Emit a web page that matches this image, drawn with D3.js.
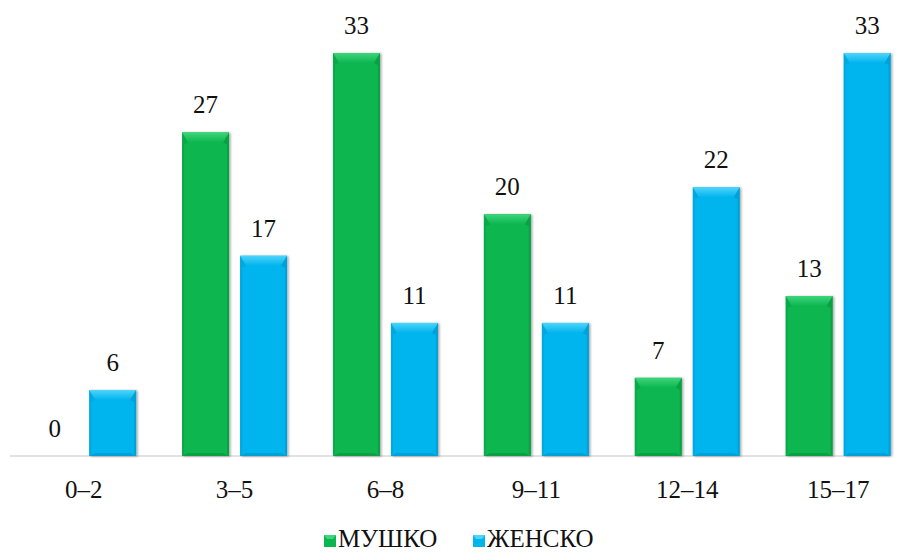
<!DOCTYPE html>
<html><head><meta charset="utf-8">
<script src="https://cdn.jsdelivr.net/npm/d3@7"></script>
<style>body{margin:0;background:#fff}svg{display:block}</style>
</head><body>
<svg id="c" width="897" height="554"></svg>
<script>
const categories = ["0–2","3–5","6–8","9–11","12–14","15–17"];
const seriesNames = ["МУШКО","ЖЕНСКО"];
const maleValues = [0, 26.5, 33, 19.8, 6.4, 13.1];
const femaleValues = [5.4, 16.4, 10.9, 10.9, 22, 33];
const maleLabels = ["0","27","33","20","7","13"];
const femaleLabels = ["6","17","11","11","22","33"];
const colors = ["#0cb64f","#00b4ee"];
const lightColors = ["#3ed57c","#4ed4fb"];
const darkColors = ["#07923d","#0193c6"];
const FONT = "'Liberation Serif','Times New Roman',Times,serif";

const svg = d3.select("#c");
const baseY = 456;
const x0 = d3.scaleBand().domain(categories).range([8.2, 8.2 + 150.9*6]).padding(0);
const bw = x0.bandwidth();
const x1 = d3.scaleBand().domain(seriesNames).range([(bw-105)/2, (bw+105)/2]).paddingInner(11/58);
const y = d3.scaleLinear().domain([0, 33]).range([baseY, 53]);

const defs = svg.append("defs");
const f = defs.append("filter").attr("id","sh").attr("x","-20%").attr("y","-5%").attr("width","140%").attr("height","110%");
f.append("feDropShadow").attr("dx",1.5).attr("dy",0.5).attr("stdDeviation",1.2).attr("flood-color","#000").attr("flood-opacity",0.35);
colors.forEach((c,i)=>{
  const lg = defs.append("linearGradient").attr("id","tb"+i).attr("x1",0).attr("y1",0).attr("x2",0).attr("y2",1);
  lg.append("stop").attr("offset","0%").attr("stop-color",lightColors[i]);
  lg.append("stop").attr("offset","100%").attr("stop-color",c);
});

svg.append("line").attr("x1",10).attr("x2",890).attr("y1",baseY).attr("y2",baseY)
  .attr("stroke","#d9d9d9").attr("stroke-width",1.5);

const data = categories.map((c,i)=>({c, vals:[
  {s:0, name:seriesNames[0], v:maleValues[i], lab:maleLabels[i]},
  {s:1, name:seriesNames[1], v:femaleValues[i], lab:femaleLabels[i]}]}));

const g = svg.selectAll("g.grp").data(data).join("g").attr("class","grp")
  .attr("transform", d=>`translate(${x0(d.c)},0)`);

const bars = g.selectAll("g.bar").data(d=>d.vals.filter(v=>v.v>0)).join("g").attr("class","bar");
bars.each(function(d){
  const gg = d3.select(this);
  const xl = x1(d.name), w = x1.bandwidth(), yt = y(d.v), h = baseY - yt;
  const b = Math.min(10, h/2), s = 6;
  gg.append("rect").attr("x",xl).attr("y",yt).attr("width",w).attr("height",h)
    .attr("fill",colors[d.s]).attr("filter","url(#sh)");
  gg.append("path").attr("d",`M${xl},${yt}L${xl+w},${yt}L${xl+w-s},${yt+b}L${xl+s},${yt+b}Z`)
    .attr("fill",`url(#tb${d.s})`);
  gg.append("path").attr("d",`M${xl+w},${yt}L${xl+w-s},${yt+b}L${xl+w-2},${yt+b+2}L${xl+w-2},${baseY-2}L${xl+w},${baseY}Z`)
    .attr("fill",darkColors[d.s]).attr("opacity",0.6);
  gg.append("path").attr("d",`M${xl},${yt}L${xl+s},${yt+b}L${xl+2},${yt+b+2}L${xl+2},${baseY-2}L${xl},${baseY}Z`)
    .attr("fill",darkColors[d.s]).attr("opacity",0.35);
  gg.append("path").attr("d",`M${xl},${baseY}L${xl+s},${baseY-3}L${xl+w-s},${baseY-3}L${xl+w},${baseY}Z`)
    .attr("fill",darkColors[d.s]).attr("opacity",0.6);
});

g.selectAll("text.val").data(d=>d.vals).join("text").attr("class","val")
  .attr("x", d=>x1(d.name)+x1.bandwidth()/2)
  .attr("y", d=>y(d.v)-19)
  .attr("text-anchor","middle")
  .attr("font-family",FONT)
  .attr("font-size",25).attr("fill","#111")
  .text(d=>d.lab);

const xa = svg.append("g").attr("transform",`translate(0,${baseY})`)
  .call(d3.axisBottom(x0).tickSize(0).tickPadding(0));
xa.select(".domain").remove();
xa.selectAll("text").attr("dy",null).attr("y",42)
  .attr("font-family",FONT)
  .attr("font-size",25).attr("fill","#111");

const legX = [324, 473];
const leg = svg.selectAll("g.leg").data(seriesNames).join("g").attr("class","leg")
  .attr("transform",(d,i)=>`translate(${legX[i]},0)`);
leg.append("rect").attr("x",0).attr("y",535).attr("width",12).attr("height",12)
  .attr("fill",(d,i)=>colors[i]);
leg.append("path").attr("d","M0,535L12,535L9,539L3,539Z").attr("fill",(d,i)=>lightColors[i]);
leg.append("text").attr("x",14).attr("y",547)
  .attr("font-family",FONT)
  .attr("font-size",25).attr("fill","#111").text(d=>d);
</script>
</body></html>
